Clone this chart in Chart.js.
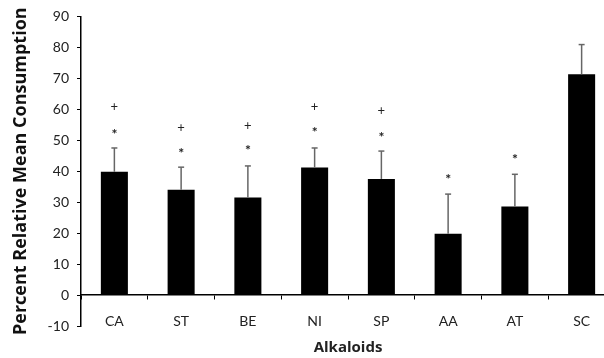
<!DOCTYPE html>
<html>
<head>
<meta charset="utf-8">
<script src="https://cdn.jsdelivr.net/npm/chart.js@4.4.0/dist/chart.umd.min.js"></script>
<style>
  html, body { margin: 0; padding: 0; background: #fff; overflow: hidden; }
  #wrap { width: 615px; height: 358px; }
</style>
</head>
<body>
<div id="wrap"><canvas id="chart"></canvas></div>
<script>
// data
const categories = ['CA', 'ST', 'BE', 'NI', 'SP', 'AA', 'AT', 'SC'];
const meanValues = [39.8, 34.0, 31.5, 41.2, 37.5, 19.8, 28.6, 71.3];
const errorTops  = [47.5, 41.3, 41.7, 47.5, 46.5, 32.6, 39.0, 80.9];
const plusMarks  = [60.9, 53.9, 54.8, 60.8, 59.5, null, null, null];
const starMarks  = [52.9, 46.8, 47.8, 53.5, 52.0, 38.4, 44.7, null];
const yMin = -10, yMax = 90, yStep = 10;

const fontFamily = 'Lato, "Open Sans", sans-serif';
const titleFamily = '"Open Sans", Lato, sans-serif';

// error bars and significance marks, placed through the scales
const errorBarsAndMarks = {
    id: 'errorBarsAndMarks',
    afterDatasetsDraw(chart) {
        const ctx = chart.ctx;
        const yScale = chart.scales.y;
        const bars = chart.getDatasetMeta(0).data;
        ctx.save();
        bars.forEach((bar, i) => {
            const top = yScale.getPixelForValue(errorTops[i]);
            ctx.strokeStyle = '#666';
            ctx.lineWidth = 1.5;
            ctx.beginPath();
            ctx.moveTo(bar.x, bar.y);
            ctx.lineTo(bar.x, top);
            ctx.stroke();
            ctx.beginPath();
            ctx.moveTo(bar.x - 3, top);
            ctx.lineTo(bar.x + 3, top);
            ctx.stroke();

            ctx.fillStyle = '#222';
            ctx.textAlign = 'center';
            ctx.textBaseline = 'middle';
            ctx.font = '13px ' + fontFamily;
            if (plusMarks[i] !== null) {
                ctx.fillText('+', bar.x, yScale.getPixelForValue(plusMarks[i]));
            }
            ctx.font = 'bold 14px ' + fontFamily;
            if (starMarks[i] !== null) {
                ctx.fillText('*', bar.x, yScale.getPixelForValue(starMarks[i]) + 3);
            }
        });
        ctx.restore();
    }
};

const ctx = document.getElementById('chart').getContext('2d');
new Chart(ctx, {
    type: 'bar',
    data: {
        labels: categories,
        datasets: [{
            data: meanValues,
            backgroundColor: '#000',
            borderWidth: 0,
            barPercentage: 0.405,
            categoryPercentage: 1.0
        }]
    },
    options: {
        responsive: true,
        maintainAspectRatio: false,
        animation: false,
        layout: { padding: { top: -3, bottom: 32, right: 0, left: 0 } },
        plugins: {
            legend: { display: false },
            tooltip: { enabled: false }
        },
        scales: {
            x: {
                position: { y: 0 },
                grid: {
                    offset: true,
                    drawOnChartArea: false,
                    tickLength: 4,
                    color: '#000'
                },
                border: { display: true, color: '#000', width: 1.5 },
                ticks: {
                    padding: 14,
                    color: '#222',
                    font: { family: fontFamily, size: 14 }
                },
                title: {
                    display: true,
                    text: 'Alkaloids',
                    color: '#222',
                    padding: { top: -5, bottom: 0 },
                    font: { family: titleFamily, size: 15, weight: 'bold' }
                }
            },
            y: {
                min: yMin,
                max: yMax,
                ticks: {
                    stepSize: yStep,
                    padding: 8,
                    color: '#222',
                    font: { family: fontFamily, size: 14 }
                },
                grid: {
                    drawOnChartArea: false,
                    tickLength: 4,
                    color: '#000'
                },
                border: { display: true, color: '#000', width: 1.5 },
                title: {
                    display: true,
                    text: 'Percent Relative Mean Consumption',
                    color: '#111',
                    padding: { top: 10, bottom: 4 },
                    font: { family: titleFamily, size: 18, weight: 'bold' }
                },
                afterFit(scale) {
                    scale.width = 81;
                }
            }
        }
    },
    plugins: [errorBarsAndMarks]
});
</script>
</body>
</html>
